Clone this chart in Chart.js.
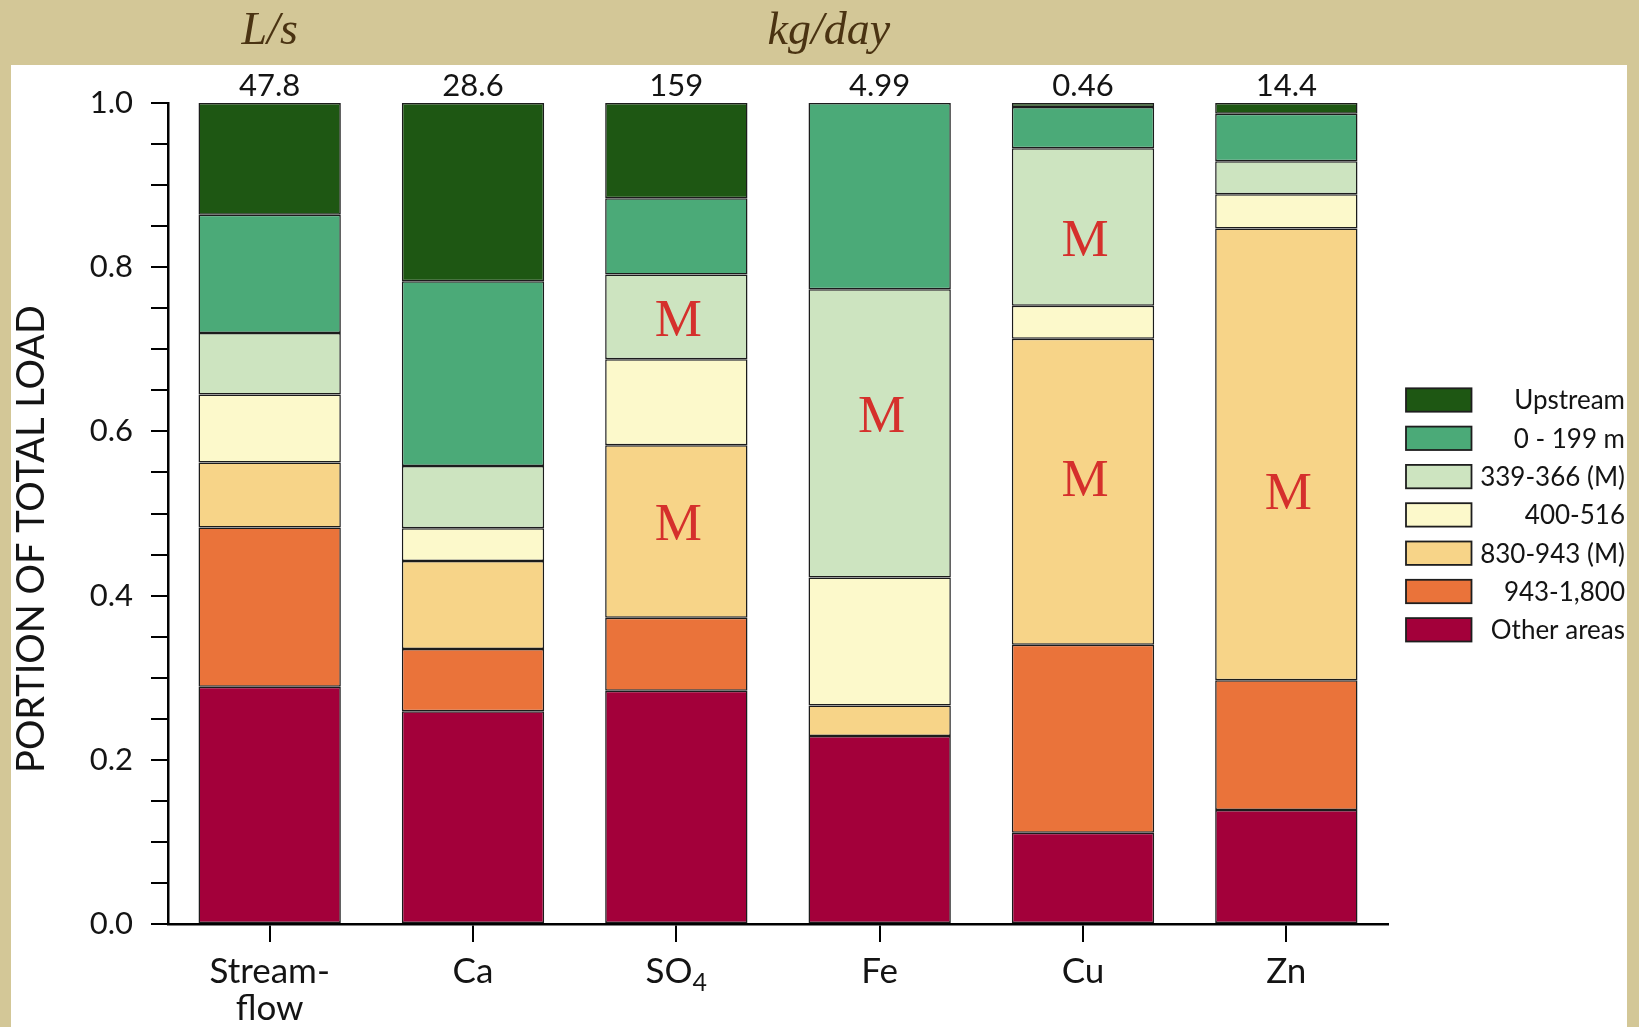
<!DOCTYPE html>
<html>
<head>
<meta charset="utf-8">
<title>Portion of total load by source reach</title>
<script src="https://cdn.jsdelivr.net/npm/chart.js@4.4.1/dist/chart.umd.min.js"></script>
<style>
  html, body { margin: 0; padding: 0; background: #D3C797; overflow: hidden; }
  #wrap { position: relative; width: 1639px; height: 1027px; }
  canvas { display: block; }
</style>
</head>
<body>
<div id="wrap"><canvas id="loadChart" width="1639" height="1027"></canvas></div>
<script>
// ---- data -------------------------------------------------------------
// Constituents along the x axis
const categories = ['Streamflow', 'Ca', 'SO4', 'Fe', 'Cu', 'Zn'];
// Total load written above each bar (L/s for streamflow, kg/day otherwise)
const totals = ['47.8', '28.6', '159', '4.99', '0.46', '14.4'];

// Portion of the total load contributed by each source (stacked bottom -> top)
const otherAreas     = [0.289, 0.259, 0.284, 0.229, 0.111, 0.139];
const reach943to1800 = [0.194, 0.076, 0.089, 0.000, 0.229, 0.158];
const reach830to943  = [0.079, 0.107, 0.210, 0.037, 0.373, 0.550];
const reach400to516  = [0.083, 0.040, 0.105, 0.156, 0.040, 0.042];
const reach339to366  = [0.075, 0.076, 0.103, 0.351, 0.192, 0.040];
const reach0to199    = [0.144, 0.225, 0.093, 0.227, 0.050, 0.058];
const upstream       = [0.136, 0.217, 0.116, 0.000, 0.005, 0.013];

const seriesNames = ['Other areas', '943-1,800', '830-943 (M)', '400-516', '339-366 (M)', '0 - 199 m', 'Upstream'];
const seriesValues = [otherAreas, reach943to1800, reach830to943, reach400to516, reach339to366, reach0to199, upstream];

// Mine-reach ("M") markers: category index and the load fraction where the letter sits
const mineMarks = [
  { cat: 2, at: 0.738 }, { cat: 2, at: 0.489 },
  { cat: 3, at: 0.620 },
  { cat: 4, at: 0.835 }, { cat: 4, at: 0.543 },
  { cat: 5, at: 0.527 }
];

// ---- styling ----------------------------------------------------------
const seriesColors = ['#A3003A', '#EA733A', '#F7D488', '#FCF9CB', '#CDE4C0', '#4BAA78', '#1E5713'];
const INK = '#141414';
const SANS = 'Lato, "Liberation Sans", sans-serif';
const SERIF = '"Liberation Serif", "DejaVu Serif", serif';

// Tan page with a white panel behind the plot
const panelPlugin = {
  id: 'panel',
  beforeDraw(chart) {
    const ctx = chart.ctx;
    ctx.save();
    ctx.fillStyle = '#D3C797';
    ctx.fillRect(0, 0, chart.width, chart.height);
    ctx.fillStyle = '#FFFFFF';
    ctx.fillRect(11, 65, 1616, chart.height - 65);
    ctx.restore();
  }
};

// Text and legend drawn around the plot
const decorPlugin = {
  id: 'decor',
  afterDraw(chart) {
    const ctx = chart.ctx;
    const x = chart.scales.x, y = chart.scales.y;
    ctx.save();

    // unit headings in the top band
    ctx.fillStyle = '#4A3312';
    ctx.font = 'italic 46px ' + SERIF;
    ctx.textAlign = 'center';
    ctx.textBaseline = 'alphabetic';
    ctx.fillText('L/s', x.getPixelForValue(0), 44);
    ctx.fillText('kg/day', x.getPixelForValue(2.75), 44);

    // totals above bars
    ctx.fillStyle = INK;
    ctx.font = '31px ' + SANS;
    totals.forEach((t, i) => ctx.fillText(t, x.getPixelForValue(i), 96));

    // category labels under the axis
    ctx.font = '35px ' + SANS;
    const base = 983;
    categories.forEach((c, i) => {
      const cx = x.getPixelForValue(i);
      if (c === 'Streamflow') {
        ctx.textAlign = 'center';
        ctx.fillText('Stream-', cx, base);
        ctx.fillText('flow', cx, base + 37);
      } else if (c === 'SO4') {
        ctx.font = '35px ' + SANS;
        const w1 = ctx.measureText('SO').width;
        ctx.font = '25px ' + SANS;
        const w2 = ctx.measureText('4').width;
        const left = cx - (w1 + w2) / 2;
        ctx.textAlign = 'left';
        ctx.font = '35px ' + SANS;
        ctx.fillText('SO', left, base);
        ctx.font = '25px ' + SANS;
        ctx.fillText('4', left + w1, base + 8);
        ctx.font = '35px ' + SANS;
      } else {
        ctx.textAlign = 'center';
        ctx.fillText(c, cx, base);
      }
    });

    // y axis title
    ctx.save();
    ctx.translate(32, 539);
    ctx.rotate(-Math.PI / 2);
    ctx.textAlign = 'center';
    ctx.textBaseline = 'middle';
    ctx.font = '38px ' + SANS;
    ctx.fillStyle = INK;
    ctx.fillText('PORTION OF TOTAL LOAD', 0, 0);
    ctx.restore();

    // "M" markers for mine reaches
    ctx.fillStyle = '#D5302C';
    ctx.font = '53px ' + SERIF;
    ctx.textAlign = 'center';
    ctx.textBaseline = 'alphabetic';
    mineMarks.forEach(m => {
      ctx.fillText('M', x.getPixelForValue(m.cat) + 2, y.getPixelForValue(m.at) + 17.5);
    });

    // legend, top entry = top of stack
    ctx.font = '26px ' + SANS;
    ctx.textAlign = 'right';
    ctx.textBaseline = 'middle';
    for (let k = 0; k < seriesNames.length; k++) {
      const s = seriesNames.length - 1 - k;
      const cy = 400 + k * 38.3;
      ctx.fillStyle = seriesColors[s];
      ctx.fillRect(1406, cy - 11.7, 65.5, 23.4);
      ctx.strokeStyle = '#1E1E1E';
      ctx.lineWidth = 1.8;
      ctx.strokeRect(1406, cy - 11.7, 65.5, 23.4);
      ctx.fillStyle = INK;
      ctx.fillText(seriesNames[s], 1625, cy + 1);
    }
    ctx.restore();
  }
};

new Chart(document.getElementById('loadChart'), {
  type: 'bar',
  data: {
    labels: categories,
    datasets: seriesNames.map((name, i) => ({
      label: name,
      data: seriesValues[i],
      backgroundColor: seriesColors[i],
      borderColor: '#1C1C1C',
      borderWidth: 1.5,
      borderSkipped: false,
      barPercentage: 0.7,
      categoryPercentage: 1.0
    }))
  },
  options: {
    responsive: false,
    animation: false,
    devicePixelRatio: 1,
    layout: { padding: { left: 0, right: 251, top: 103, bottom: 0 } },
    plugins: { legend: { display: false }, tooltip: { enabled: false }, title: { display: false } },
    scales: {
      x: {
        stacked: true,
        offset: true,
        afterFit(scale) { scale.height = 103; },
        grid: { display: true, offset: false, drawOnChartArea: false, drawTicks: true, tickLength: 18, color: '#000', lineWidth: 2 },
        border: { display: true, color: '#000', width: 2.5 },
        ticks: { display: false }
      },
      y: {
        stacked: true,
        min: 0,
        max: 1,
        afterFit(scale) { scale.width = 168; },
        grid: { display: true, drawOnChartArea: false, drawTicks: true, tickLength: 17, color: '#000', lineWidth: 2 },
        border: { display: true, color: '#000', width: 2.5 },
        ticks: {
          stepSize: 0.05,
          maxTicksLimit: 40,
          autoSkip: false,
          padding: 18,
          color: INK,
          font: { family: SANS, size: 31 },
          callback: v => (Math.round(v * 20) % 4 === 0 ? v.toFixed(1) : '')
        }
      }
    }
  },
  plugins: [panelPlugin, decorPlugin]
});
</script>
</body>
</html>
